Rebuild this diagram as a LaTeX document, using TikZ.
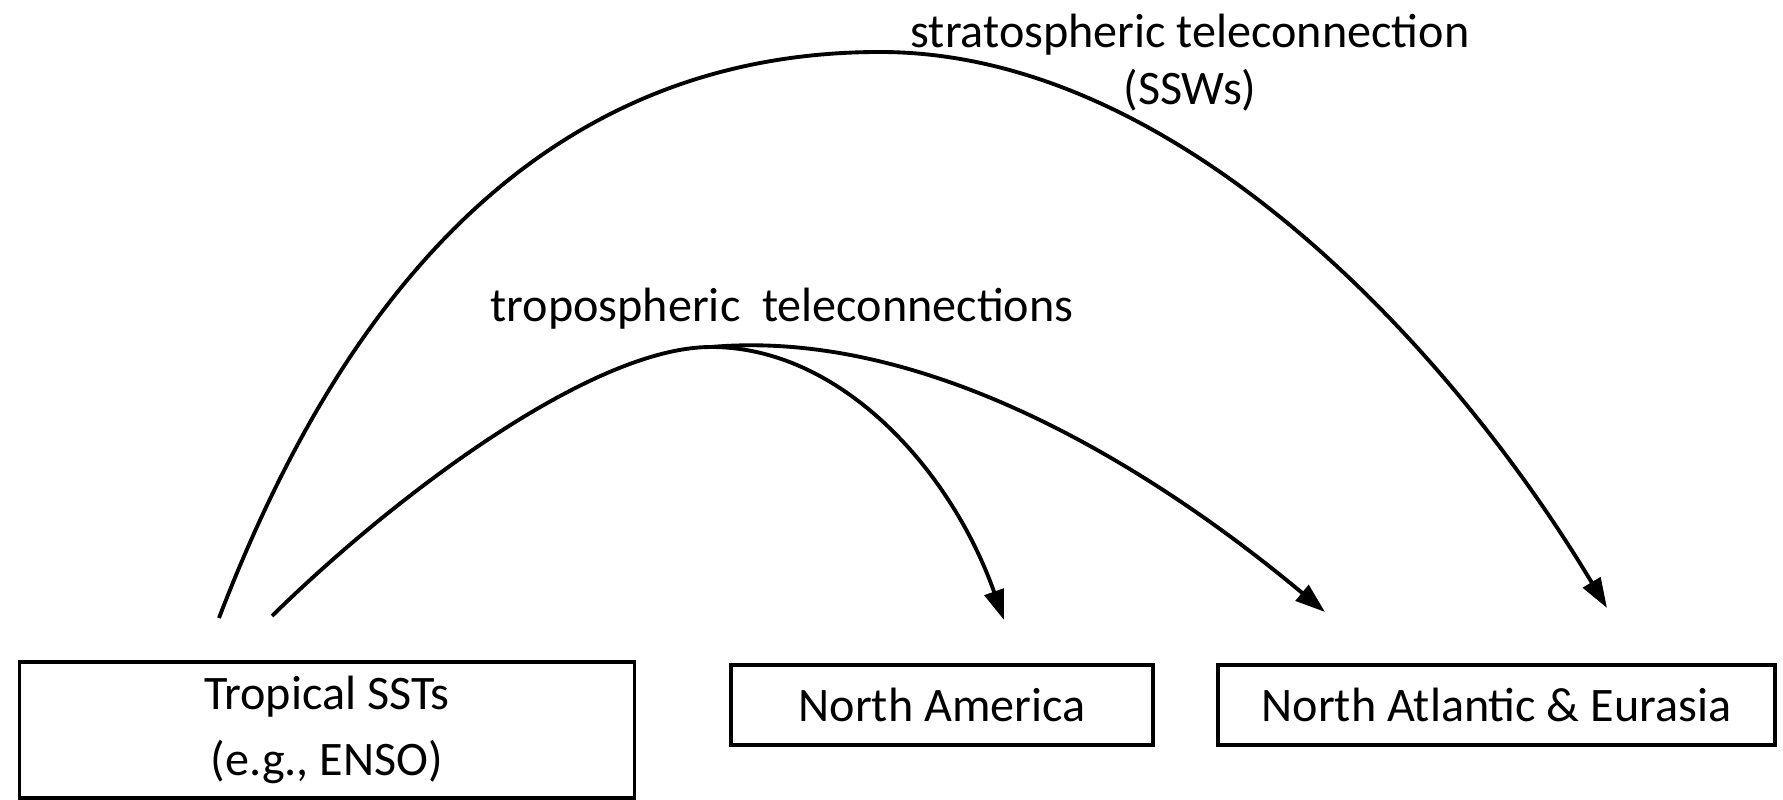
\documentclass[tikz,border=0pt]{standalone}
\usepackage{fontspec}
\setmainfont{Carlito}
\usetikzlibrary{arrows.meta}

\begin{document}
\begin{tikzpicture}[every node/.style={align=center, font=\fontsize{13.7}{18.8}\selectfont},
    region/.style={draw, line width=1.1pt, inner sep=0pt},
    link/.style={line width=1.1pt, -{Triangle[length=0.3cm, width=0.2cm]}}]
      \useasboundingbox (0,0) rectangle (17.83,8);

      % Regions
      \node (sst) [region, minimum width=6.15cm, minimum height=1.36cm] at (3.27, 0.70) {Tropical SSTs\\(e.g., ENSO)};
      \node (nam) [region, minimum width=4.22cm, minimum height=0.80cm] at (9.42, 0.95) {North America};
      \node (nae) [region, minimum width=5.57cm, minimum height=0.80cm] at (14.965, 0.95) {North Atlantic \& Eurasia};

      % Labels
      \node (strat) [font=\fontsize{13.7}{16.2}\selectfont] at (11.90, 7.37) {stratospheric teleconnection\\(SSWs)};
      \node (trop) at (7.82, 4.91) {tropospheric\ \ teleconnections};

      % Ends of the arcs
      \coordinate (stratS) at (2.19, 1.82);
      \coordinate (stratP) at (8.8, 7.48);
      \coordinate (tropS) at (2.72, 1.84);
      \coordinate (tropP) at (7.11, 4.53);
      \coordinate (namT) at (10.04, 1.80);
      \coordinate (naeT) at (13.25, 1.88);
      \coordinate (stratT) at (16.07, 1.92);

      % Stratospheric arc
      \draw[link] (stratS) .. controls (3.62, 5.56) and (5.8, 7.48) .. (stratP)
                           .. controls (11.8, 7.48) and (14.53, 4.49) .. (stratT);

      % Tropospheric arcs
      \draw[line width=1.1pt] (tropS) .. controls (3.9, 3.0) and (5.9, 4.53) .. (tropP);
      \draw[link] (tropP) .. controls (8.41, 4.53) and (9.51, 3.30) .. (namT);
      \draw[link] (tropP) .. controls (9.30, 4.72) and (11.56, 3.29) .. (naeT);

    \end{tikzpicture}
\end{document}
